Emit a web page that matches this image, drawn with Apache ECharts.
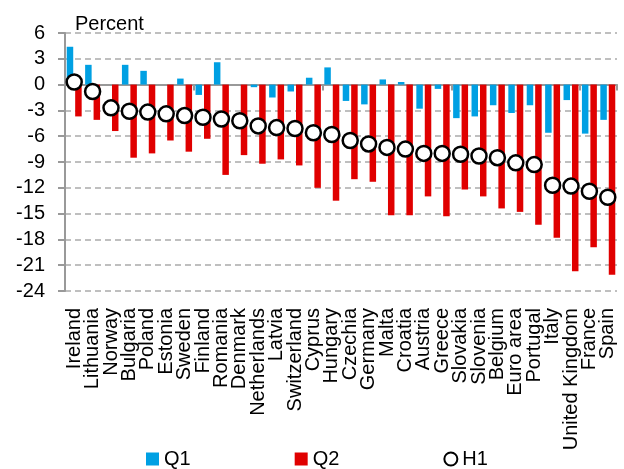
<!DOCTYPE html>
<html>
<head>
<meta charset="utf-8">
<script src="https://cdn.jsdelivr.net/npm/echarts@6/dist/echarts.min.js"></script>
<style>
  html, body { margin: 0; padding: 0; background: #fff; }
  #chart { width: 624px; height: 469px; }
</style>
</head>
<body>
<div id="chart"></div>
<script>
// countries, sorted by H1
var countries = ['Ireland', 'Lithuania', 'Norway', 'Bulgaria', 'Poland', 'Estonia', 'Sweden', 'Finland',
  'Romania', 'Denmark', 'Netherlands', 'Latvia', 'Switzerland', 'Cyprus', 'Hungary', 'Czechia',
  'Germany', 'Malta', 'Croatia', 'Austria', 'Greece', 'Slovakia', 'Slovenia', 'Belgium',
  'Euro area', 'Portugal', 'Italy', 'United Kingdom', 'France', 'Spain'];
var q1 = [4.4, 2.3, 0.0, 2.3, 1.6, 0.0, 0.7, -1.2, 2.6, 0.0, -0.3, -1.5, -0.8, 0.8, 2.0, -1.9,
  -2.3, 0.6, 0.3, -2.8, -0.5, -3.9, -3.7, -2.4, -3.3, -2.4, -5.6, -1.8, -5.7, -4.1];
var q2 = [-3.7, -4.1, -5.4, -8.5, -8.0, -6.5, -7.8, -6.3, -10.5, -8.2, -9.2, -8.7, -9.4, -12.0, -13.5, -11.0,
  -11.3, -15.2, -15.2, -13.0, -15.3, -12.2, -13.0, -14.4, -14.8, -16.3, -17.8, -21.7, -18.9, -22.1];
var h1 = [0.3, -0.8, -2.7, -3.1, -3.2, -3.4, -3.6, -3.8, -4.0, -4.2, -4.8, -5.0, -5.1, -5.6, -5.8, -6.5,
  -6.9, -7.3, -7.5, -8.0, -8.0, -8.1, -8.3, -8.5, -9.1, -9.3, -11.7, -11.8, -12.4, -13.1];

var FONT = 'Liberation Sans';
var chart = echarts.init(document.getElementById('chart'));

chart.setOption({
  animation: false,
  textStyle: { fontFamily: FONT, color: '#000' },
  title: {
    text: 'Percent',
    left: 70, top: 9,
    textStyle: { fontFamily: FONT, fontSize: 20, fontWeight: 'normal', color: '#000' }
  },
  legend: {
    left: 141, top: 444,
    itemWidth: 13, itemHeight: 13, itemGap: 104,
    textStyle: { fontFamily: FONT, fontSize: 20, color: '#000' },
    data: [
      { name: 'Q1', icon: 'rect' },
      { name: 'Q2', icon: 'rect' },
      { name: 'H1', icon: 'circle' }
    ]
  },
  grid: { left: 65, right: 7, top: 33, bottom: 178 },
  xAxis: [
    {
      // axis drawn on the zero line
      type: 'category',
      data: countries,
      axisLine: { onZero: true, lineStyle: { color: '#999', width: 2 } },
      axisTick: { show: true, length: 6, lineStyle: { color: '#999', width: 2 } },
      axisLabel: { show: false }
    },
    {
      // labels under the plot
      type: 'category',
      data: countries,
      position: 'bottom',
      axisLine: { show: false, onZero: false },
      axisTick: { show: false },
      axisLabel: {
        interval: 0, rotate: 90, margin: 17,
        fontFamily: FONT, fontSize: 20, color: '#000'
      }
    }
  ],
  yAxis: {
    type: 'value',
    min: -24, max: 6, interval: 3,
    axisLine: { show: true, lineStyle: { color: '#999', width: 2 } },
    axisTick: { show: true, length: 7, lineStyle: { color: '#999', width: 2 } },
    axisLabel: { margin: 20, fontFamily: FONT, fontSize: 20, color: '#000' },
    splitLine: { lineStyle: { color: '#bfbfbf', width: 2, type: [6, 4] } }
  },
  series: [
    {
      name: 'Q1', type: 'bar', data: q1,
      barWidth: 6.5, barGap: '30%',
      itemStyle: { color: '#00a0e3' }
    },
    {
      name: 'Q2', type: 'bar', data: q2,
      barWidth: 6.5, barGap: '30%',
      itemStyle: { color: '#e00000' }
    },
    {
      name: 'H1', type: 'line', data: h1,
      symbol: 'circle', symbolSize: 15,
      showSymbol: true, showAllSymbol: true,
      lineStyle: { width: 0 },
      itemStyle: { color: '#fff', borderColor: '#000', borderWidth: 2.5 },
      z: 5
    }
  ]
});
</script>
</body>
</html>
